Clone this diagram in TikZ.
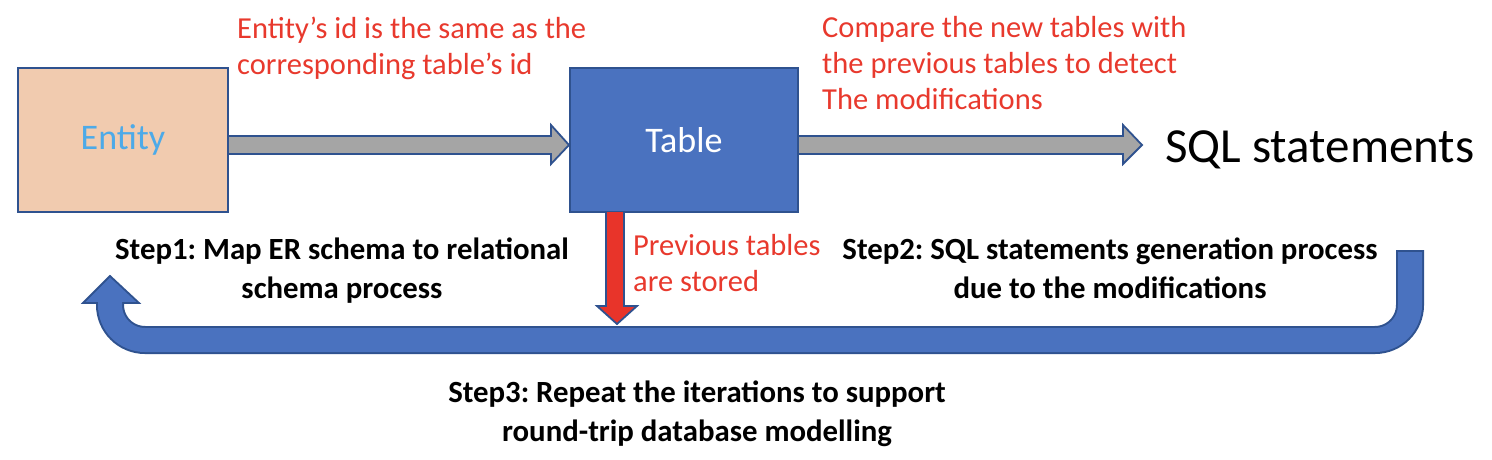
\documentclass[tikz,border=0pt]{standalone}
\usepackage{fontspec}
\setmainfont{Carlito}
\frenchspacing
\definecolor{bord}{HTML}{2F528F}
\definecolor{entfill}{HTML}{F1CBAF}
\definecolor{tabfill}{HTML}{4A72BF}
\definecolor{grayfill}{HTML}{A5A5A5}
\definecolor{redfill}{HTML}{E8342A}
\definecolor{redtxt}{HTML}{E8392D}
\definecolor{enttxt}{HTML}{4DAAE8}
\tikzset{
  boxstyle/.style={draw=bord, line width=2pt},
  arrowshape/.style={draw=bord, line width=1.8pt, line join=miter},
  redlabel/.style={text=redtxt, font=\fontsize{30.5}{36}\selectfont, align=left, anchor=north west, inner sep=0pt},
  steplabel/.style={text=black, font=\bfseries\fontsize{30.8}{39}\selectfont, align=center, anchor=north, inner sep=0pt},
}
\begin{document}
\begin{tikzpicture}[x=1pt,y=-1pt]
\useasboundingbox (0,0) rectangle (1492,460);
% boxes
\node[boxstyle, fill=entfill, minimum width=210pt, minimum height=144pt, inner sep=0pt] (entity) at (123,140) {};
\node[text=enttxt, font=\fontsize{36}{40}\selectfont] (entitytxt) at (entity.center) {Entity};
\node[boxstyle, fill=tabfill, minimum width=228pt, minimum height=144pt, inner sep=0pt] (table) at (684,140) {};
\node[text=white, font=\fontsize{36}{40}\selectfont] (tabletxt) at (table.center) {Table};
\node[anchor=base west, font=\fontsize{49}{54}\selectfont, inner sep=0pt] (sql) at (1165,162) {SQL statements};
% gray arrows
\draw[arrowshape, fill=grayfill] (entity.east |- 0,136) -- (551,136) -- (551,125) -- (table.west |- 0,145) -- (551,164) -- (551,154) -- (entity.east |- 0,154);
\draw[arrowshape, fill=grayfill] (table.east |- 0,136) -- (1123,136) -- (1123,125) -- (1142,145) -- (1123,164) -- (1123,154) -- (table.east |- 0,154);
% red arrow
\draw[arrowshape, fill=redfill] (606,212) -- (606,306) -- (597,306) -- (617,324) -- (637,306) -- (624,306) -- (624,212);
% U arrow
\coordinate (ustart) at (1410,252);
\coordinate (uend) at (110,303);
\draw[bord, line width=28pt, rounded corners=35pt] (1410,250) -- (1410,340) -- (110,340) -- (110,304);
\draw[arrowshape, fill=tabfill] (83,303) -- (110,276) -- (139,303) -- cycle;
\draw[tabfill, line width=24pt, rounded corners=35pt] (ustart) -- (1410,340) -- (110,340) -- (110,301);
% labels
\node[redlabel] (lab1) at (237,17) {Entity’s id is the same as the\\corresponding table’s id};
\node[redlabel] (lab2) at (822,16) {Compare the new tables with\\the previous tables to detect\\The modifications};
\node[redlabel] (lab3) at (633,234) {Previous tables\\are stored};
\node[steplabel] (s1) at (342,238) {Step1: Map ER schema to relational\\schema process};
\node[steplabel] (s2) at (1110,238) {Step2: SQL statements generation process\\due to the modifications};
\node[steplabel] (s3) at (697,381) {Step3: Repeat the iterations to support\\round-trip database modelling};
\end{tikzpicture}
\end{document}
